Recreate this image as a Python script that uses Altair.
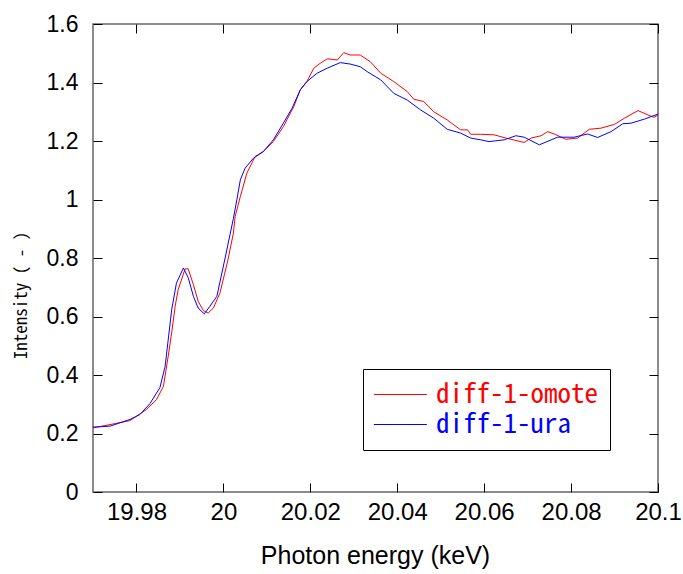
import altair as alt
import pandas as pd

series_names = ["diff-1-omote", "diff-1-ura"]
series_colors = ["#ff0000", "#0000ff"]

energy_omote = [19.9700, 19.9785, 19.9823, 19.9846, 19.9862, 19.9873, 19.9881, 19.9889,
                19.9896, 19.9912, 19.9919, 19.9931, 19.9942, 19.9954, 19.9965, 19.9977,
                19.9992, 20.0010, 20.0023, 20.0027, 20.0039, 20.0054, 20.0073, 20.0092,
                20.0115, 20.0138, 20.0162, 20.0177, 20.0192, 20.0208, 20.0223, 20.0239,
                20.0262, 20.0277, 20.0292, 20.0315, 20.0338, 20.0362, 20.0392, 20.0423,
                20.0438, 20.0461, 20.0484, 20.0515, 20.0546, 20.0562, 20.0569, 20.0592,
                20.0623, 20.0650, 20.0692, 20.0708, 20.0731, 20.0746, 20.0761, 20.0788,
                20.0815, 20.0842, 20.0869, 20.0900, 20.0923, 20.0954, 20.0977, 20.0991,
                20.1000]
intensity_omote = [0.219, 0.244, 0.282, 0.316, 0.361, 0.464, 0.544, 0.635,
                   0.692, 0.763, 0.763, 0.709, 0.652, 0.620, 0.612, 0.629,
                   0.680, 0.790, 0.885, 0.942, 1.010, 1.090, 1.147, 1.164,
                   1.198, 1.249, 1.318, 1.375, 1.403, 1.449, 1.466, 1.481,
                   1.477, 1.502, 1.494, 1.494, 1.471, 1.432, 1.403, 1.369,
                   1.343, 1.335, 1.300, 1.272, 1.238, 1.238, 1.223, 1.223,
                   1.221, 1.210, 1.195, 1.210, 1.218, 1.232, 1.224, 1.206,
                   1.210, 1.240, 1.244, 1.257, 1.278, 1.304, 1.289, 1.281,
                   1.289]

energy_ura = [19.9700, 19.9739, 19.9785, 19.9808, 19.9831, 19.9854, 19.9866, 19.9873,
              19.9881, 19.9892, 19.9908, 19.9919, 19.9931, 19.9942, 19.9956, 19.9969,
              19.9985, 20.0004, 20.0023, 20.0031, 20.0039, 20.0050, 20.0069, 20.0092,
              20.0115, 20.0138, 20.0158, 20.0177, 20.0192, 20.0216, 20.0239, 20.0269,
              20.0292, 20.0315, 20.0331, 20.0362, 20.0392, 20.0423, 20.0454, 20.0484,
              20.0515, 20.0546, 20.0569, 20.0592, 20.0611, 20.0646, 20.0673, 20.0692,
              20.0727, 20.0769, 20.0807, 20.0838, 20.0861, 20.0892, 20.0919, 20.0938,
              20.0969, 20.1000]
intensity_ura = [0.222, 0.225, 0.248, 0.265, 0.302, 0.357, 0.430, 0.520,
                 0.623, 0.714, 0.766, 0.733, 0.669, 0.629, 0.609, 0.635,
                 0.669, 0.800, 0.935, 0.999, 1.067, 1.107, 1.141, 1.164,
                 1.204, 1.261, 1.312, 1.375, 1.403, 1.432, 1.449, 1.468,
                 1.463, 1.454, 1.437, 1.409, 1.363, 1.340, 1.306, 1.278,
                 1.240, 1.227, 1.210, 1.204, 1.198, 1.204, 1.218, 1.213,
                 1.187, 1.213, 1.213, 1.224, 1.212, 1.232, 1.259, 1.261,
                 1.275, 1.292]

x_ticks = [19.98, 20.0, 20.02, 20.04, 20.06, 20.08, 20.1]
y_ticks = [0, 0.2, 0.4, 0.6, 0.8, 1.0, 1.2, 1.4, 1.6]

df = pd.concat([
    pd.DataFrame({"energy": energy_omote, "intensity": intensity_omote, "series": series_names[0]}),
    pd.DataFrame({"energy": energy_ura, "intensity": intensity_ura, "series": series_names[1]}),
])

xscale = alt.Scale(domain=[19.97, 20.1], nice=False, zero=False)
yscale = alt.Scale(domain=[0, 1.6], nice=False)

base = alt.Chart(df)

lines = base.mark_line(strokeWidth=1, clip=True).encode(
    x=alt.X("energy:Q", scale=xscale,
            axis=alt.Axis(orient="bottom", values=x_ticks, format=".2~f", offset=-9, tickSize=9,
                          tickColor="#000000", domain=False, grid=False, labelFlush=False,
                          labelOverlap=False, labelFont="Liberation Sans", labelFontSize=24,
                          labelColor="#000000", labelPadding=8,
                          title="Photon energy (keV)", titleFont="Liberation Sans",
                          titleFontSize=25, titleFontWeight="normal", titleColor="#000000",
                          titleX=282, titleY=80, titleBaseline="alphabetic", titleAlign="center")),
    y=alt.Y("intensity:Q", scale=yscale,
            axis=alt.Axis(orient="left", values=y_ticks, format=".1~f", offset=-9, tickSize=9,
                          tickColor="#000000", domain=False, grid=False, labelFlush=False,
                          labelOverlap=False, labelFont="Liberation Sans", labelFontSize=23,
                          labelColor="#000000", labelPadding=15,
                          title="Intensity ( - )", titleFont="Noto Sans Mono CJK JP, DejaVu Sans",
                          titleFontSize=17,
                          titleFontWeight="normal", titleColor="#000000",
                          titleX=-81, titleY=271, titleAngle=270, titleBaseline="middle",
                          titleAlign="center")),
    color=alt.Color("series:N", scale=alt.Scale(domain=series_names, range=series_colors),
                    legend=alt.Legend(title=None, orient="none", legendX=270, legendY=345,
                                      strokeColor="#000000", fillColor="#ffffff", padding=12,
                                      symbolType="M-1.38,0H3.62", symbolSize=449, symbolStrokeWidth=1,
                                      labelFont="Noto Sans Mono CJK JP, DejaVu Sans Mono",
                                      labelFontSize=27,
                                      labelLimit=400, labelOffset=34, rowPadding=2,
                                      labelColor=alt.ExprRef("datum.value === 'diff-1-omote' ? '#ff0000' : '#0000ff'"))),
)

frame = base.mark_line(opacity=0).encode(
    x=alt.X("energy:Q", scale=xscale,
            axis=alt.Axis(orient="top", values=x_ticks, labels=False, title=None, offset=-9,
                          tickSize=9, tickColor="#000000", domain=False, grid=False)),
    y=alt.Y("intensity:Q", scale=yscale,
            axis=alt.Axis(orient="right", values=y_ticks, labels=False, title=None, offset=-9,
                          tickSize=9, tickColor="#000000", domain=False, grid=False)),
    detail="series:N",
)

chart = alt.layer(lines, frame).resolve_axis(x="independent", y="independent").properties(
    width=565, height=468,
    autosize=alt.AutoSizeParams(type="none"),
    padding={"left": 93, "top": 24, "right": 25, "bottom": 82},
    background="#ffffff",
).configure_view(stroke="#666666", strokeWidth=1.5)

chart.save("out.html", embed_options={"renderer": "svg", "actions": False})
